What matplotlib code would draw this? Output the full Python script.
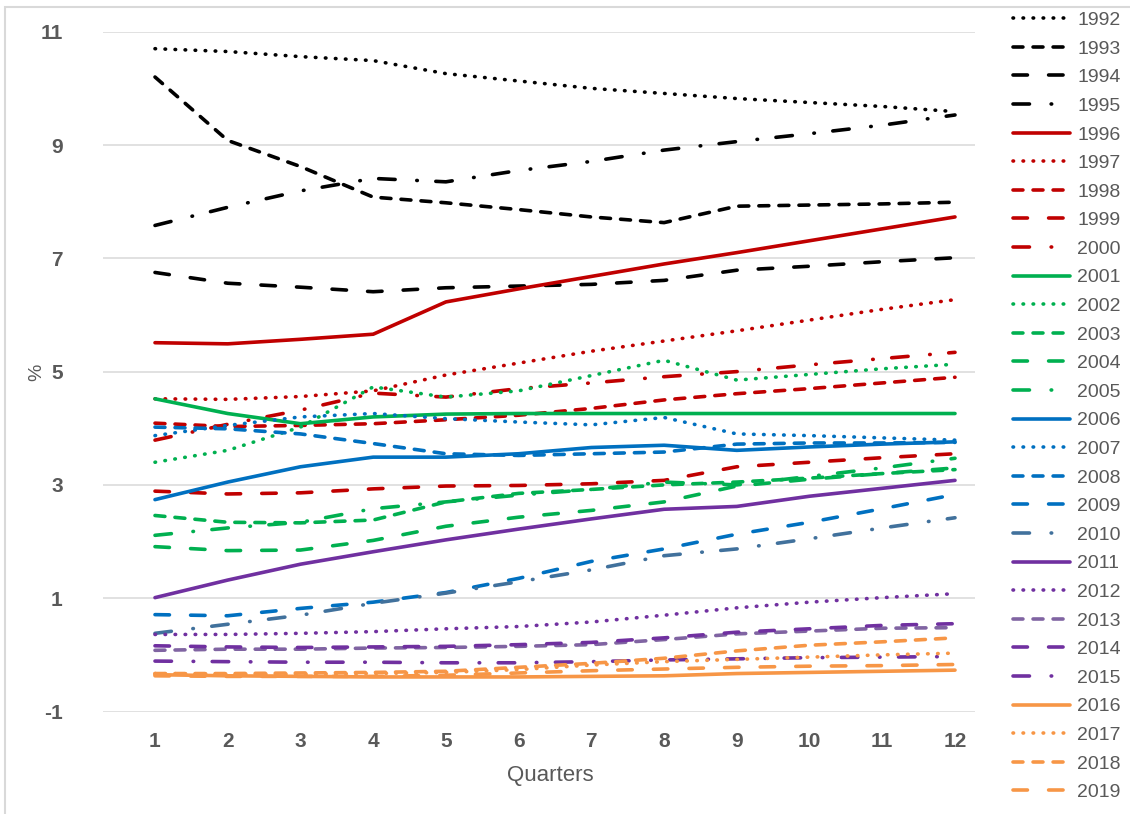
import matplotlib
matplotlib.use("Agg")
import matplotlib.pyplot as plt
from matplotlib.patches import Rectangle

plt.rcParams["axes.unicode_minus"] = False

quarters = [1, 2, 3, 4, 5, 6, 7, 8, 9, 10, 11, 12]
years = [str(y) for y in range(1992, 2020)]

y1992 = [10.70, 10.65, 10.56, 10.49, 10.26, 10.13, 10.00, 9.91, 9.82, 9.75, 9.68, 9.59]
y1993 = [10.20, 9.08, 8.62, 8.08, 7.98, 7.86, 7.73, 7.63, 7.92, 7.94, 7.96, 7.99]
y1994 = [6.75, 6.56, 6.49, 6.41, 6.48, 6.51, 6.54, 6.61, 6.79, 6.86, 6.94, 7.01]
y1995 = [7.58, 7.90, 8.19, 8.41, 8.35, 8.55, 8.71, 8.91, 9.06, 9.20, 9.35, 9.53]
y1996 = [5.51, 5.49, 5.57, 5.66, 6.23, 6.46, 6.68, 6.90, 7.10, 7.31, 7.52, 7.73]
y1997 = [4.52, 4.51, 4.56, 4.66, 4.94, 5.15, 5.36, 5.54, 5.72, 5.91, 6.10, 6.27]
y1998 = [4.09, 4.03, 4.05, 4.08, 4.15, 4.23, 4.35, 4.50, 4.61, 4.70, 4.80, 4.90]
y1999 = [2.89, 2.84, 2.86, 2.93, 2.98, 2.99, 3.02, 3.08, 3.32, 3.40, 3.48, 3.55]
y2000 = [3.79, 4.07, 4.32, 4.62, 4.55, 4.70, 4.80, 4.91, 5.00, 5.12, 5.23, 5.34]
y2001 = [4.52, 4.26, 4.08, 4.20, 4.25, 4.26, 4.26, 4.26, 4.26, 4.26, 4.26, 4.26]
y2002 = [3.40, 3.61, 4.02, 4.73, 4.55, 4.66, 4.93, 5.20, 4.85, 4.95, 5.05, 5.13]
y2003 = [2.46, 2.34, 2.33, 2.38, 2.70, 2.85, 2.92, 3.00, 3.05, 3.12, 3.20, 3.27]
y2004 = [1.91, 1.84, 1.85, 2.02, 2.27, 2.43, 2.55, 2.70, 2.98, 3.10, 3.20, 3.30]
y2005 = [2.11, 2.24, 2.34, 2.58, 2.70, 2.82, 2.92, 3.05, 3.00, 3.15, 3.30, 3.47]
y2006 = [2.74, 3.05, 3.32, 3.49, 3.49, 3.55, 3.66, 3.70, 3.61, 3.67, 3.72, 3.76]
y2007 = [3.87, 4.05, 4.20, 4.26, 4.17, 4.11, 4.06, 4.19, 3.90, 3.87, 3.83, 3.79]
y2008 = [4.02, 3.99, 3.90, 3.73, 3.55, 3.52, 3.55, 3.58, 3.72, 3.74, 3.74, 3.75]
y2009 = [0.71, 0.69, 0.82, 0.93, 1.10, 1.35, 1.65, 1.87, 2.13, 2.34, 2.58, 2.83]
y2010 = [0.38, 0.54, 0.70, 0.91, 1.09, 1.29, 1.50, 1.75, 1.87, 2.05, 2.24, 2.42]
y2011 = [1.01, 1.32, 1.60, 1.82, 2.03, 2.22, 2.40, 2.57, 2.62, 2.80, 2.94, 3.08]
y2012 = [0.36, 0.36, 0.38, 0.41, 0.46, 0.50, 0.58, 0.70, 0.83, 0.93, 1.01, 1.08]
y2013 = [0.08, 0.10, 0.10, 0.12, 0.13, 0.15, 0.18, 0.27, 0.37, 0.42, 0.47, 0.48]
y2014 = [0.16, 0.14, 0.13, 0.14, 0.15, 0.18, 0.22, 0.30, 0.40, 0.46, 0.52, 0.55]
y2015 = [-0.11, -0.12, -0.13, -0.13, -0.14, -0.14, -0.12, -0.09, -0.07, -0.05, -0.04, -0.03]
y2016 = [-0.35, -0.37, -0.38, -0.39, -0.39, -0.39, -0.38, -0.37, -0.33, -0.31, -0.29, -0.27]
y2017 = [-0.33, -0.34, -0.34, -0.33, -0.31, -0.26, -0.18, -0.12, -0.08, -0.04, 0.00, 0.03]
y2018 = [-0.33, -0.33, -0.32, -0.31, -0.29, -0.22, -0.15, -0.06, 0.07, 0.17, 0.23, 0.30]
y2019 = [-0.37, -0.38, -0.38, -0.38, -0.36, -0.32, -0.28, -0.25, -0.22, -0.20, -0.19, -0.17]

series = [y1992, y1993, y1994, y1995, y1996, y1997, y1998, y1999, y2000,
          y2001, y2002, y2003, y2004, y2005, y2006, y2007, y2008, y2009,
          y2010, y2011, y2012, y2013, y2014, y2015, y2016, y2017, y2018, y2019]

BLACK, RED, GREEN, BLUE, SLATE = "#000000", "#C00000", "#00B050", "#0070C0", "#41719C"
PURPLE, LPURPLE, ORANGE = "#7030A0", "#8064A2", "#F79646"
colors = [BLACK] * 4 + [RED] * 5 + [GREEN] * 5 + [BLUE] * 4 + [SLATE] + \
         [PURPLE, PURPLE, LPURPLE, PURPLE, PURPLE] + [ORANGE] * 4

SOLID = None
DOT = (0.15, 2.63)
DASH = (2.75, 2.8)
LDASH = (4.0, 5.86)
DDOT = (4.56, 6.0, 0.15, 5.13)
styles = [DOT, DASH, LDASH, DDOT] + [SOLID, DOT, DASH, LDASH, DDOT] * 4 + [SOLID, DOT, DASH, LDASH]

W, H = 1130, 814
fig = plt.figure(figsize=(W / 100, H / 100), dpi=100)
ax = fig.add_axes([103 / W, 1 - 711.5 / H, (975 - 103) / W, (711.5 - 31.7) / H])

handles = []
for yr, vals, c, st in zip(years, series, colors, styles):
    kw = dict(color=c, lw=2.6, solid_capstyle="round", dash_capstyle="round",
              solid_joinstyle="round", dash_joinstyle="round", label=yr)
    if st is not None:
        kw["dashes"] = st
    ln, = ax.plot(quarters, vals, **kw)
    handles.append(ln)

ax.set_xlim(0.285, 12.275)
ax.set_ylim(-1, 11)
ax.set_yticks([-1, 1, 3, 5, 7, 9, 11])
ax.set_xticks(quarters)
for s in ax.spines.values():
    s.set_visible(False)
ax.grid(axis="y", color="#D9D9D9", lw=1.1)
ax.set_axisbelow(True)
ax.tick_params(axis="both", length=0, labelcolor="#595959")
ax.tick_params(axis="y", pad=29)
ax.tick_params(axis="x", pad=15)
for lab in ax.get_xticklabels() + ax.get_yticklabels():
    lab.set_fontfamily("Liberation Sans")
    lab.set_fontweight("bold")
    lab.set_fontsize(15)

fig.text(550 / W, 1 - 775 / H, "Quarters", ha="center", va="center",
         fontsize=16, color="#595959", family="Liberation Sans")
fig.text(37 / W, 1 - 372 / H, "%", ha="center", va="center", rotation=90,
         fontsize=14, color="#595959", family="Liberation Sans")

leg = fig.legend(handles=handles, loc="upper left", bbox_to_anchor=(1013 / W, 1 - 11.5 / H),
                 frameon=False, borderpad=0, borderaxespad=0, handlelength=2.94,
                 handletextpad=0.36, labelspacing=0.565,
                 prop={"family": "Liberation Sans", "size": 14})
for t in leg.get_texts():
    t.set_color("#595959")

fig.add_artist(Rectangle((4.5 / W, -0.1), 1.1, 1.1 - 6.7 / H, transform=fig.transFigure,
                         fill=False, edgecolor="#D9D9D9", lw=1.5))

fig.savefig("out.png", dpi=100)
